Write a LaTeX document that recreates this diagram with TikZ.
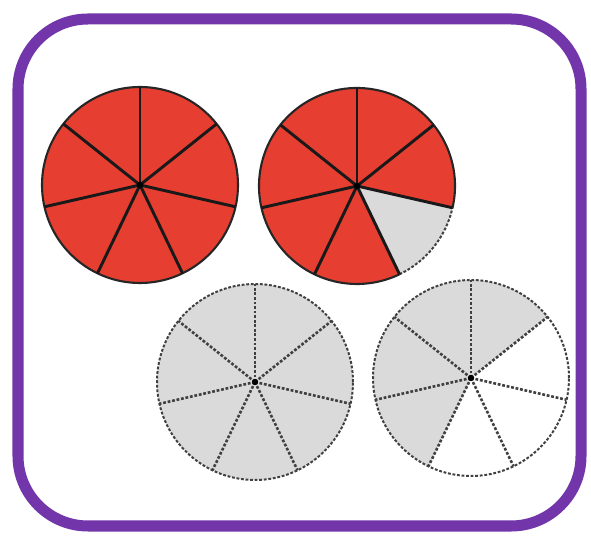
\documentclass[tikz,border=0pt]{standalone}
\usepackage{tikz}
\definecolor{pier}{HTML}{E63E31}
\definecolor{pieg}{HTML}{DADADA}
\definecolor{framec}{HTML}{7236AA}
\tikzset{
  rim/.style={line width=1.8pt,black!85},
  dashrim/.style={line width=1.7pt,black!75,dash pattern=on 2.4pt off 1.5pt},
  spoke/.style={line width=2.5pt,black!90},
  dashspoke/.style={line width=2.2pt,black!75,dash pattern=on 2.4pt off 1.5pt},
  frame/.style={draw=framec,line width=9.4pt,rounded corners=2.1cm}
}

\begin{document}
\begin{tikzpicture}[x=0.03cm,y=0.03cm]
\useasboundingbox (0,0) rectangle (591,539);
\draw[frame] (18,13) rectangle (581,520);
\coordinate (p1) at (140,354);
\coordinate (p2) at (357,353);
\coordinate (p3) at (255,157);
\coordinate (p4) at (471,161);
% sectors, clockwise from the top
\foreach \p/\cols in {p1/{pier,pier,pier,pier,pier,pier,pier},
                      p2/{pier,pier,pieg,pier,pier,pier,pier},
                      p3/{pieg,pieg,pieg,pieg,pieg,pieg,pieg},
                      p4/{pieg,white,white,white,pieg,pieg,pieg}}{
 \foreach \c [count=\k from 0] in \cols
  \fill[\c] (\p) -- ++({90-\k*360/7}:98) arc ({90-\k*360/7}:{90-(\k+1)*360/7}:98) -- cycle;}
% rims
\draw[rim] (p1) circle (98);
\draw[rim] (p2) ++(-12.857:98) arc (-12.857:295.714:98);
\draw[dashrim] (p2) ++(-64.286:98) arc (-64.286:-12.857:98);
\draw[dashrim] (p3) circle (98);
\draw[dashrim] (p4) circle (98);
% spokes
\foreach \p/\st in {p1/spoke,p2/spoke,p3/dashspoke,p4/dashspoke}{
 \foreach \k in {0,...,6}
  \draw[\st] (\p) -- ++({90-\k*360/7}:98);
 \fill (\p) circle (3.2);}
\end{tikzpicture}
\end{document}
